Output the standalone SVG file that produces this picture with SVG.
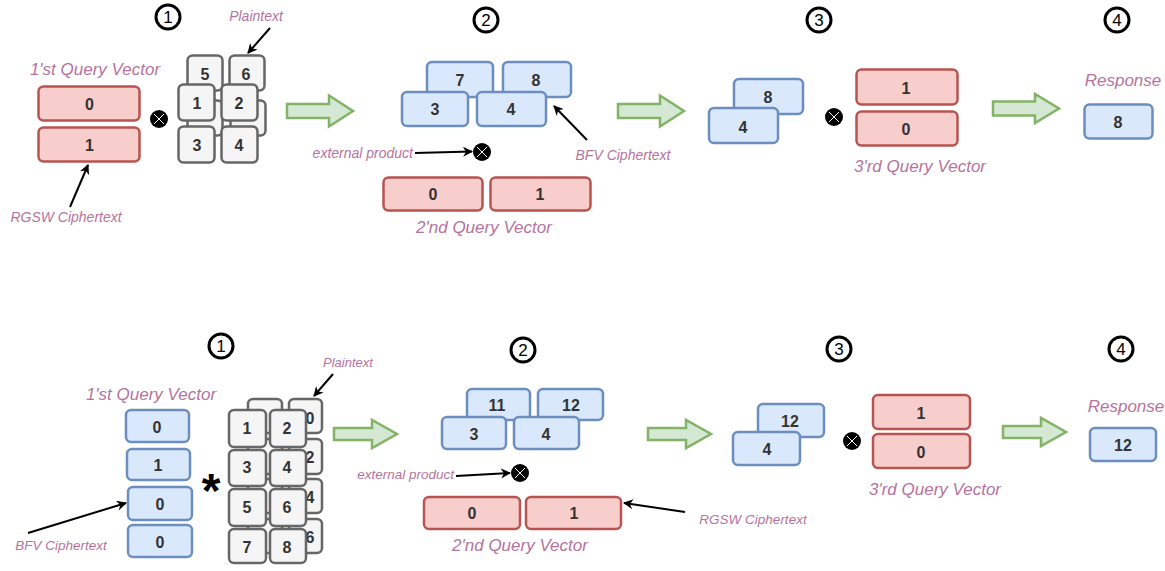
<svg xmlns="http://www.w3.org/2000/svg" width="1165" height="571" viewBox="0 0 1165 571">
<defs>
<style>
.r{fill:#f8cecc;stroke:#b85450;stroke-width:2.5}
.b{fill:#dae8fc;stroke:#6c8ebf;stroke-width:2.5}
.g{fill:#f5f5f5;stroke:#666666;stroke-width:2.5}
.ga{fill:#d5e8d4;stroke:#82b366;stroke-width:2.5;stroke-linejoin:miter}
.n{font-family:"Liberation Sans",Arial,sans-serif;font-weight:bold;font-size:16px;fill:#333333;text-anchor:middle}
.lb{font-family:"Liberation Sans",Arial,sans-serif;font-style:italic;font-size:17px;fill:#b5739d;text-anchor:middle}
.sl{font-family:"Liberation Sans",Arial,sans-serif;font-style:italic;font-size:14px;fill:#b5739d;text-anchor:middle}
.st{fill:#ffffff;stroke:#000000;stroke-width:3}
.stn{font-family:"Liberation Sans",Arial,sans-serif;font-size:17px;fill:#000000;text-anchor:middle}
.ln{stroke:#000000;stroke-width:2;fill:none;marker-end:url(#ah)}
.ox{fill:#000000}
.oxl{stroke:#ffffff;stroke-width:1}
</style>
<marker id="ah" viewBox="0 0 10 10" refX="9" refY="5" markerWidth="5" markerHeight="5" orient="auto" markerUnits="strokeWidth">
<path d="M0,0 L10,5 L0,10 L3,5 Z" fill="#000000"/>
</marker>
<g id="otimes">
<circle class="ox" cx="0" cy="0" r="9"/>
<path class="oxl" d="M-5,-5 L5,5 M5,-5 L-5,5"/>
</g>
</defs>
<rect width="1165" height="571" fill="#ffffff"/>

<!-- ============ TOP ============ -->
<g id="step1-top"><circle class="st" cx="168" cy="17" r="12"/><text class="stn" x="168" y="23">1</text></g>
<g id="step2-top"><circle class="st" cx="486" cy="20" r="12"/><text class="stn" x="486" y="26">2</text></g>
<g id="step3-top"><circle class="st" cx="819" cy="20" r="12"/><text class="stn" x="819" y="26">3</text></g>
<g id="step4-top"><circle class="st" cx="1117" cy="20" r="12"/><text class="stn" x="1117" y="26">4</text></g>

<g id="q1-top">
<text class="lb" x="95" y="75">1'st Query Vector</text>
<rect class="r" x="38.5" y="86.5" width="101" height="34" rx="5"/><text class="n" x="89.5" y="109.5">0</text>
<rect class="r" x="38.5" y="127.5" width="101" height="34" rx="5"/><text class="n" x="89.5" y="150.5">1</text>
</g>
<g id="op1-top"><use href="#otimes" x="159" y="119"/></g>
<g id="rgsw-label-top"><text class="sl" x="66" y="222">RGSW Ciphertext</text></g>

<g id="plain-top">
<rect class="g" x="187.5" y="55.5" width="35" height="35" rx="5"/><text class="n" x="205" y="79.5">5</text>
<rect class="g" x="229.5" y="55.5" width="35" height="35" rx="5"/><text class="n" x="246" y="79.5">6</text>
<rect class="g" x="187.5" y="100.5" width="35" height="35" rx="5"/>
<rect class="g" x="230.5" y="100.5" width="35" height="35" rx="5"/>
<rect class="g" x="178.5" y="84.5" width="36" height="36" rx="5"/><text class="n" x="197" y="108.5">1</text>
<rect class="g" x="221.5" y="84.5" width="36" height="36" rx="5"/><text class="n" x="239" y="108.5">2</text>
<rect class="g" x="178.5" y="126.5" width="36" height="36" rx="5"/><text class="n" x="197" y="150.5">3</text>
<rect class="g" x="221.5" y="126.5" width="36" height="36" rx="5"/><text class="n" x="239" y="150.5">4</text>
</g>
<g id="plain-label-top"><text class="sl" x="256" y="21">Plaintext</text></g>

<g id="ct2-top">
<rect class="b" x="427" y="62" width="66" height="35" rx="5"/><text class="n" x="460" y="85.5">7</text>
<rect class="b" x="503" y="62" width="68" height="35" rx="5"/><text class="n" x="536" y="85.5">8</text>
<rect class="b" x="402" y="92" width="66" height="34" rx="5"/><text class="n" x="435" y="114.5">3</text>
<rect class="b" x="477" y="92" width="69" height="34" rx="5"/><text class="n" x="511" y="114.5">4</text>
</g>
<g id="ext-label-top"><text class="sl" x="413" y="158" style="text-anchor:end">external product</text></g>
<g id="op2-top"><use href="#otimes" x="482" y="152"/></g>
<g id="bfv-label-top"><text class="sl" x="623" y="160">BFV Ciphertext</text></g>
<g id="q2-top">
<rect class="r" x="383.5" y="177.5" width="99" height="33" rx="5"/><text class="n" x="433" y="199.5">0</text>
<rect class="r" x="490.5" y="177.5" width="100" height="33" rx="5"/><text class="n" x="540" y="199.5">1</text>
<text class="lb" x="484" y="233">2'nd Query Vector</text>
</g>

<g id="ct3-top">
<rect class="b" x="734" y="79" width="69" height="35" rx="5"/><text class="n" x="768" y="102.5">8</text>
<rect class="b" x="709" y="108" width="69" height="35" rx="5"/><text class="n" x="743" y="132.5">4</text>
</g>
<g id="op3-top"><use href="#otimes" x="834" y="117"/></g>
<g id="q3-top">
<rect class="r" x="856.5" y="69.5" width="101" height="35" rx="5"/><text class="n" x="906" y="93.5">1</text>
<rect class="r" x="856.5" y="111.5" width="101" height="34" rx="5"/><text class="n" x="906" y="134.5">0</text>
<text class="lb" x="920" y="172">3'rd Query Vector</text>
</g>
<g id="resp-top">
<text class="lb" x="1123" y="86">Response</text>
<rect class="b" x="1084.5" y="104.5" width="68" height="34" rx="5"/><text class="n" x="1118" y="127.5">8</text>
</g>

<!-- ============ BOTTOM ============ -->
<g id="step1-bot"><circle class="st" cx="221" cy="346" r="12"/><text class="stn" x="221" y="352">1</text></g>
<g id="step2-bot"><circle class="st" cx="523" cy="350" r="12"/><text class="stn" x="523" y="356">2</text></g>
<g id="step3-bot"><circle class="st" cx="839" cy="349" r="12"/><text class="stn" x="839" y="355">3</text></g>
<g id="step4-bot"><circle class="st" cx="1121" cy="349" r="12"/><text class="stn" x="1121" y="355">4</text></g>

<g id="q1-bot">
<text class="lb" x="151" y="400">1'st Query Vector</text>
<rect class="b" x="126" y="410" width="63" height="32" rx="5"/><text class="n" x="157" y="432.5">0</text>
<rect class="b" x="127" y="449" width="63" height="31" rx="5"/><text class="n" x="158" y="470.5">1</text>
<rect class="b" x="128" y="487" width="64" height="33" rx="5"/><text class="n" x="160" y="509.5">0</text>
<rect class="b" x="128" y="525" width="64" height="32" rx="5"/><text class="n" x="160" y="547.5">0</text>
</g>
<g id="star-bot"><text x="211" y="507" style="font-family:'Liberation Sans',sans-serif;font-weight:bold;font-size:48px;fill:#000;text-anchor:middle">*</text></g>
<g id="bfv-label-bot"><text class="sl" x="61" y="550" style="font-size:13.5px">BFV Ciphertext</text></g>

<g id="plain-bot">
<rect class="g" x="248" y="399" width="34" height="34" rx="5"/>
<rect class="g" x="289" y="399" width="33" height="34" rx="5"/><text class="n" x="310" y="423.5">0</text>
<rect class="g" x="248" y="439" width="34" height="35" rx="5"/>
<rect class="g" x="289" y="439" width="33" height="35" rx="5"/><text class="n" x="310" y="462.5">2</text>
<rect class="g" x="248" y="479" width="34" height="34" rx="5"/>
<rect class="g" x="289" y="479" width="33" height="34" rx="5"/><text class="n" x="310" y="502.5">4</text>
<rect class="g" x="248" y="519" width="34" height="34" rx="5"/>
<rect class="g" x="289" y="519" width="33" height="34" rx="5"/><text class="n" x="310" y="542.5">6</text>
<rect class="g" x="229" y="410" width="37" height="37" rx="5"/><text class="n" x="247" y="433.5">1</text>
<rect class="g" x="270" y="410" width="36" height="37" rx="5"/><text class="n" x="287" y="433.5">2</text>
<rect class="g" x="229" y="450" width="37" height="36" rx="5"/><text class="n" x="247" y="472.5">3</text>
<rect class="g" x="270" y="450" width="36" height="36" rx="5"/><text class="n" x="287" y="472.5">4</text>
<rect class="g" x="229" y="489" width="37" height="37" rx="5"/><text class="n" x="247" y="512.5">5</text>
<rect class="g" x="270" y="489" width="36" height="37" rx="5"/><text class="n" x="287" y="512.5">6</text>
<rect class="g" x="229" y="529" width="37" height="34" rx="5"/><text class="n" x="247" y="552.5">7</text>
<rect class="g" x="270" y="529" width="36" height="34" rx="5"/><text class="n" x="287" y="552.5">8</text>
</g>
<g id="plain-label-bot"><text class="sl" x="348" y="367" style="font-size:13px">Plaintext</text></g>

<g id="ct2-bot">
<rect class="b" x="467" y="389" width="63" height="31" rx="5"/><text class="n" x="497" y="410.5">11</text>
<rect class="b" x="538" y="389" width="65" height="31" rx="5"/><text class="n" x="571" y="410.5">12</text>
<rect class="b" x="442" y="417" width="64" height="32" rx="5"/><text class="n" x="474" y="439.5">3</text>
<rect class="b" x="514" y="417" width="65" height="32" rx="5"/><text class="n" x="546" y="439.5">4</text>
</g>
<g id="ext-label-bot"><text class="sl" x="454" y="479" style="text-anchor:end;font-size:13.5px">external product</text></g>
<g id="op2-bot"><use href="#otimes" x="520" y="473"/></g>
<g id="q2-bot">
<rect class="r" x="424" y="497" width="96" height="32" rx="5"/><text class="n" x="472" y="518.5">0</text>
<rect class="r" x="526" y="497" width="95" height="32" rx="5"/><text class="n" x="574" y="518.5">1</text>
<text class="lb" x="520" y="551">2'nd Query Vector</text>
</g>
<g id="rgsw-label-bot"><text class="sl" x="753" y="524" style="font-size:13.5px">RGSW Ciphertext</text></g>

<g id="ct3-bot">
<rect class="b" x="758" y="404" width="66" height="33" rx="5"/><text class="n" x="790" y="426.5">12</text>
<rect class="b" x="733" y="432" width="67" height="33" rx="5"/><text class="n" x="767" y="454.5">4</text>
</g>
<g id="op3-bot"><use href="#otimes" x="852" y="441"/></g>
<g id="q3-bot">
<rect class="r" x="873" y="395" width="97" height="34" rx="5"/><text class="n" x="921" y="418.5">1</text>
<rect class="r" x="873" y="434" width="97" height="34" rx="5"/><text class="n" x="921" y="457.5">0</text>
<text class="lb" x="935" y="495">3'rd Query Vector</text>
</g>
<g id="resp-bot">
<text class="lb" x="1126" y="412">Response</text>
<rect class="b" x="1090" y="428" width="66" height="33" rx="5"/><text class="n" x="1123" y="450.5">12</text>
</g>

<!-- ============ CONNECTORS ============ -->
<g id="connectors">
<path class="ga" d="M287,104 H329 V95.5 L353,111 L329,126.5 V118 H287 Z"/>
<path class="ga" d="M618,104 H660 V95.5 L684,111 L660,126.5 V118 H618 Z"/>
<path class="ga" d="M993,101.5 H1035 V94 L1059,108.5 L1035,123 V115.5 H993 Z"/>
<path class="ga" d="M334,428 H372 V420 L397,434 L372,448 V440 H334 Z"/>
<path class="ga" d="M648,428 H686 V420 L711,434 L686,448 V440 H648 Z"/>
<path class="ga" d="M1003,426 H1041 V418 L1066,432 L1041,446 V438 H1003 Z"/>
<line class="ln" x1="70" y1="207" x2="88" y2="165"/>
<line class="ln" x1="270" y1="28" x2="248" y2="53"/>
<line class="ln" x1="415" y1="153" x2="472" y2="151.5"/>
<line class="ln" x1="587" y1="140" x2="554" y2="106"/>
<line class="ln" x1="333" y1="374" x2="314" y2="396"/>
<line class="ln" x1="28" y1="533" x2="126" y2="503"/>
<line class="ln" x1="456" y1="476" x2="510" y2="473"/>
<line class="ln" x1="685" y1="512" x2="624" y2="503"/>
</g>
</svg>
